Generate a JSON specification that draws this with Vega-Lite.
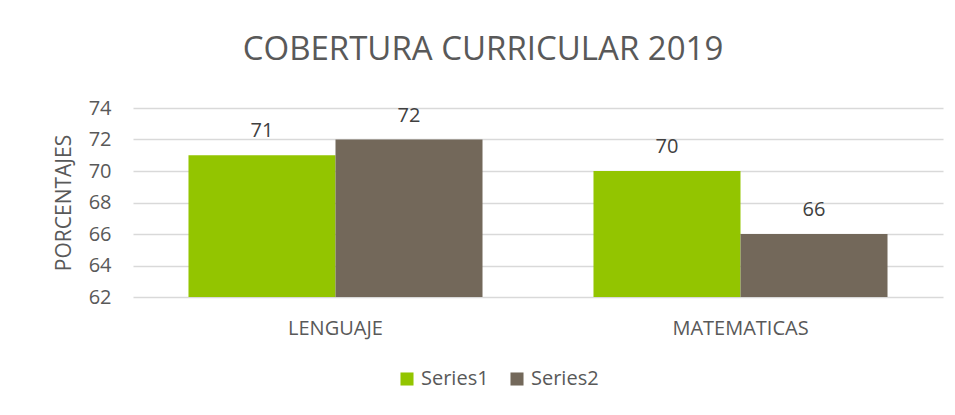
{
  "$schema": "https://vega.github.io/schema/vega-lite/v6.json",
  "width": 810,
  "height": 189,
  "padding": {"left": 53, "top": 34, "right": 10, "bottom": 10},
  "background": "white",
  "title": {
    "text": "COBERTURA CURRICULAR 2019",
    "fontSize": 33,
    "font": "Open Sans",
    "fontWeight": "normal",
    "color": "#595959",
    "anchor": "middle",
    "dx": -55,
    "offset": 31
  },
  "data": {
    "values": [
      {"materia": "LENGUAJE", "serie": "Series1", "valor": 71},
      {"materia": "LENGUAJE", "serie": "Series2", "valor": 72},
      {"materia": "MATEMATICAS", "serie": "Series1", "valor": 70},
      {"materia": "MATEMATICAS", "serie": "Series2", "valor": 66}
    ]
  },
  "encoding": {
    "x": {
      "field": "materia",
      "type": "nominal",
      "sort": ["LENGUAJE", "MATEMATICAS"],
      "scale": {"paddingInner": 0.274, "paddingOuter": 0.137},
      "axis": {
        "title": null,
        "labelAngle": 0,
        "domain": false,
        "ticks": false,
        "labelPadding": 21,
        "labelFontSize": 20,
        "labelFont": "Open Sans",
        "labelColor": "#595959"
      }
    },
    "xOffset": {
      "field": "serie",
      "type": "nominal",
      "scale": {"paddingInner": 0, "paddingOuter": 0}
    },
    "y": {
      "field": "valor",
      "type": "quantitative",
      "scale": {"domain": [62, 74], "zero": false, "nice": false},
      "axis": {
        "values": [62, 64, 66, 68, 70, 72, 74],
        "title": "PORCENTAJES",
        "titleFont": "Open Sans",
        "titleFontSize": 21,
        "titleFontWeight": "normal",
        "titleColor": "#595959",
        "titlePadding": 14,
        "labelFont": "Open Sans",
        "labelFontSize": 20,
        "labelColor": "#595959",
        "labelPadding": 22,
        "domain": false,
        "ticks": false,
        "grid": true,
        "gridColor": "#d9d9d9",
        "gridWidth": 1.5
      }
    }
  },
  "layer": [
    {
      "mark": {"type": "bar", "clip": true},
      "encoding": {
        "color": {
          "field": "serie",
          "type": "nominal",
          "scale": {"domain": ["Series1", "Series2"], "range": ["#93C500", "#73685A"]},
          "legend": {
            "title": null,
            "orient": "none",
            "legendX": 264,
            "legendY": 261,
            "direction": "horizontal",
            "symbolType": "square",
            "symbolSize": 170,
            "symbolStrokeWidth": 0,
            "labelFont": "Open Sans",
            "labelFontSize": 20,
            "labelColor": "#595959",
            "labelOffset": 4,
            "columnPadding": 18
          }
        }
      }
    },
    {
      "mark": {
        "type": "text",
        "baseline": "alphabetic",
        "dy": -18,
        "font": "Open Sans",
        "fontSize": 20,
        "color": "#404040"
      },
      "encoding": {"text": {"field": "valor", "type": "quantitative"}}
    }
  ],
  "config": {"view": {"stroke": null}}
}
